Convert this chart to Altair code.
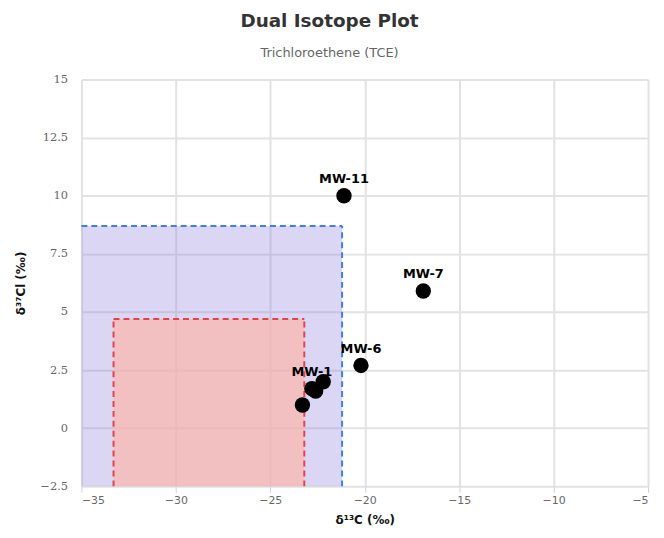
import altair as alt
import pandas as pd

# Sample points
labels = ["MW-11", "MW-7", "MW-6", "MW-1", "", "", ""]
d13c = [-21.1, -16.9, -20.2, -22.8, -22.2, -22.6, -23.3]
d37cl = [10.0, 5.9, 2.7, 1.7, 2.0, 1.6, 1.0]

# Shaded source regions
region_names = ["blue", "red"]
region_x1 = [-35.0, -33.3]
region_x2 = [-21.2, -23.2]
region_y1 = [-2.5, -2.5]
region_y2 = [8.7, 4.7]
region_fill = ["#8476da", "#fcb7aa"]
region_fill_opacity = [0.3, 0.7]
region_line = ["#3d7ef0", "#e8404a"]

x_ticks = [-35, -30, -25, -20, -15, -10, -5]
y_ticks = [-2.5, 0, 2.5, 5, 7.5, 10, 12.5, 15]

pts = pd.DataFrame({"x": d13c, "y": d37cl, "label": labels})
reg = pd.DataFrame({
    "name": region_names, "x1": region_x1, "x2": region_x2,
    "y1": region_y1, "y2": region_y2,
    "fill": region_fill, "op": region_fill_opacity,
})

xs = alt.Scale(domain=[-35, -5], nice=False, zero=False)
ys = alt.Scale(domain=[-2.5, 15], nice=False, zero=False)
col = alt.Scale(domain=region_names, range=region_line)

x_axis = alt.Axis(values=x_ticks, format="d", title="δ¹³C (‰)",
                  labelFont="DejaVu Sans", labelFontSize=11, labelColor="#666",
                  ticks=True, tickColor="#c6d3ea", tickSize=6, tickWidth=1,
                  labelPadding=2, titlePadding=9,
                  titleFont="DejaVu Sans", titleFontSize=12, titleFontWeight="bold",
                  titleColor="#111", domain=False,
                  gridColor="#e2e2e2", gridWidth=2)
y_axis = alt.Axis(values=y_ticks, format=".4~g", title="δ³⁷Cl (‰)",
                  labelFont="DejaVu Serif", labelFontSize=11.5, labelColor="#666",
                  ticks=False, labelPadding=14, titlePadding=12,
                  titleFont="DejaVu Sans", titleFontSize=12, titleFontWeight="bold",
                  titleColor="#111", domain=False,
                  gridColor="#e2e2e2", gridWidth=2)

fills = alt.Chart(reg).mark_rect(strokeWidth=0).encode(
    x=alt.X("x1:Q", scale=xs, axis=x_axis),
    x2="x2:Q",
    y=alt.Y("y1:Q", scale=ys, axis=y_axis),
    y2="y2:Q",
    fill=alt.Fill("fill:N", scale=None),
    opacity=alt.Opacity("op:Q", scale=None),
)

dash = dict(strokeDash=[6, 4], strokeWidth=2)
top_edges = alt.Chart(reg).mark_rule(**dash).encode(
    x=alt.X("x1:Q", scale=xs), x2="x2:Q", y=alt.Y("y2:Q", scale=ys),
    color=alt.Color("name:N", scale=col, legend=None),
)
right_edges = alt.Chart(reg).mark_rule(**dash).encode(
    x=alt.X("x2:Q", scale=xs), y=alt.Y("y1:Q", scale=ys), y2="y2:Q",
    color=alt.Color("name:N", scale=col, legend=None),
)
left_edges = alt.Chart(reg).transform_filter(alt.datum.name == "red").mark_rule(**dash).encode(
    x=alt.X("x1:Q", scale=xs), y=alt.Y("y1:Q", scale=ys), y2="y2:Q",
    color=alt.Color("name:N", scale=col, legend=None),
)

points = alt.Chart(pts).mark_circle(size=240, color="black", opacity=1).encode(
    x=alt.X("x:Q", scale=xs), y=alt.Y("y:Q", scale=ys),
)
texts = alt.Chart(pts).mark_text(dy=-17, font="DejaVu Sans", fontSize=13,
                                  fontWeight="bold", color="black").encode(
    x=alt.X("x:Q", scale=xs), y=alt.Y("y:Q", scale=ys), text="label:N",
)

chart = alt.layer(fills, top_edges, right_edges, left_edges, points, texts).properties(
    width=571, height=410,
    autosize=alt.AutoSizeParams(type="none"),
    padding={"left": 74, "top": 70, "right": 8, "bottom": 45},
    title=alt.TitleParams(
        "Dual Isotope Plot", subtitle="Trichloroethene (TCE)",
        font="DejaVu Sans", fontSize=18.5, fontWeight="bold", color="#333",
        subtitleFont="DejaVu Sans", subtitleFontSize=13, subtitleColor="#666",
        subtitlePadding=16, offset=14, anchor="middle", dx=-35.5,
    ),
).configure_view(stroke=None)

chart.save("out.html", embed_options={"renderer": "svg", "actions": False})
